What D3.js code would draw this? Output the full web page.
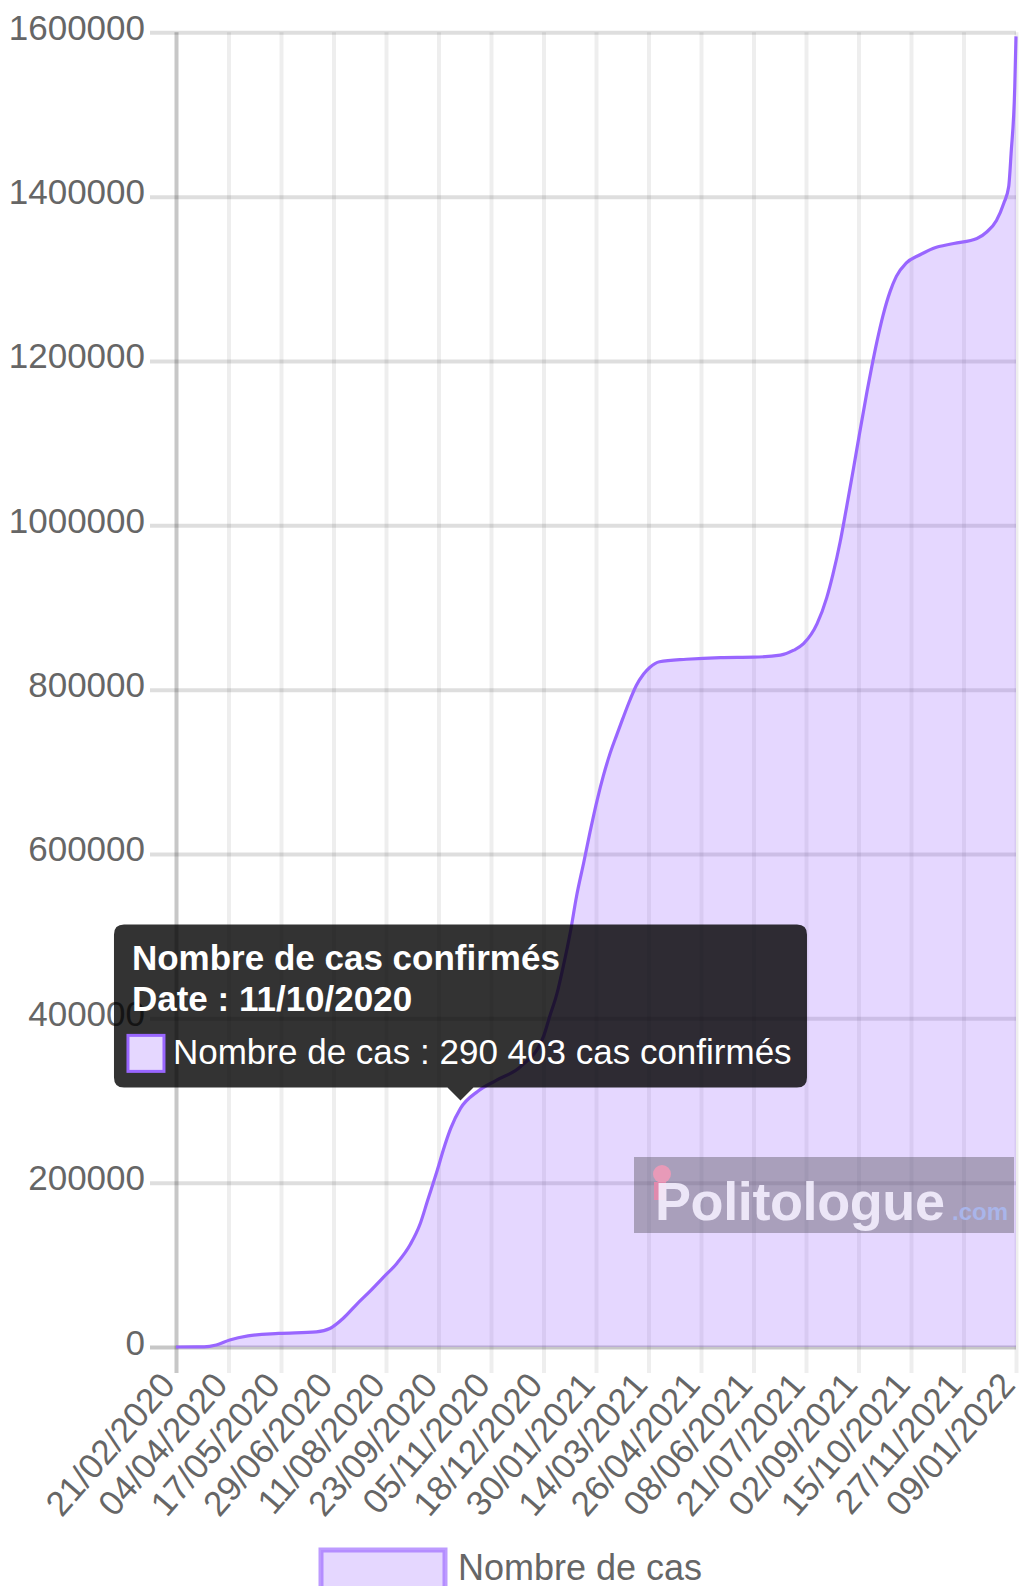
<!DOCTYPE html>
<html lang="fr">
<head>
<meta charset="UTF-8">
<title>Nombre de cas confirmés</title>
<script src="https://d3js.org/d3.v7.min.js"></script>
<style>
  body { margin: 0; background: #fff; }
  svg { display: block; font-family: "Liberation Sans", Arial, sans-serif; }
</style>
</head>
<body>
<svg id="chart" width="1019" height="1586"></svg>
<script>
// values
const dates = [
  "21/02/2020", "15/03/2020", "25/03/2020", "05/04/2020", "20/04/2020", "15/05/2020",
  "15/06/2020", "26/06/2020", "07/07/2020", "18/07/2020", "29/07/2020", "09/08/2020",
  "20/08/2020", "31/08/2020", "08/09/2020", "14/09/2020", "22/09/2020", "27/09/2020",
  "03/10/2020", "11/10/2020", "25/10/2020", "10/11/2020", "29/11/2020", "18/12/2020",
  "23/12/2020", "29/12/2020", "03/01/2021", "09/01/2021", "14/01/2021", "20/01/2021",
  "25/01/2021", "31/01/2021", "05/02/2021", "10/02/2021", "16/02/2021", "21/02/2021",
  "27/02/2021", "04/03/2021", "10/03/2021", "15/03/2021", "23/03/2021", "14/04/2021",
  "12/05/2021", "08/06/2021", "30/06/2021", "11/07/2021", "19/07/2021", "30/07/2021",
  "07/08/2021", "12/08/2021", "18/08/2021", "23/08/2021", "29/08/2021", "03/09/2021",
  "09/09/2021", "13/09/2021", "17/09/2021", "22/09/2021", "28/09/2021", "03/10/2021",
  "11/10/2021", "22/10/2021", "02/11/2021", "19/11/2021", "08/12/2021", "16/12/2021",
  "24/12/2021", "30/12/2021", "03/01/2022", "05/01/2022", "08/01/2022", "09/01/2022"
];
const cases = [
  0, 200, 2500, 8500, 13500, 16500,
  18500, 22500, 35000, 52000, 68000, 85000,
  102000, 125000, 150000, 178000, 215000, 240000,
  266000, 290403, 311000, 325000, 341000, 378000,
  402000, 430000, 462000, 505000, 548000, 590000,
  626000, 666000, 695000, 720000, 745000, 765000,
  788000, 805000, 819000, 827000, 834000, 837000,
  839000, 839500, 842000, 848000, 856000, 880000,
  912000, 940000, 980000, 1020000, 1070000, 1113000,
  1163000, 1194000, 1223000, 1255000, 1285000, 1303000,
  1319000, 1329000, 1337000, 1343000, 1349000, 1357000,
  1371000, 1392000, 1412000, 1453000, 1534000, 1595000
];
const xTickLabels = [
  "21/02/2020", "04/04/2020", "17/05/2020", "29/06/2020", "11/08/2020", "23/09/2020",
  "05/11/2020", "18/12/2020", "30/01/2021", "14/03/2021", "26/04/2021", "08/06/2021",
  "21/07/2021", "02/09/2021", "15/10/2021", "27/11/2021", "09/01/2022"
];
const yTickValues = [0, 200000, 400000, 600000, 800000, 1000000, 1200000, 1400000, 1600000];

const seriesName = "Nombre de cas";
const tooltipTitle = "Nombre de cas confirmés";
const tooltipDate = "11/10/2020";

const parse = d3.timeParse("%d/%m/%Y");
const data = dates.map((d, i) => ({ date: parse(d), value: cases[i] }));

const svg = d3.select("#chart");
const plot = { left: 176, right: 1016, top: 32.3, bottom: 1347 };
const font = 35;

const x = d3.scaleTime()
  .domain([parse(xTickLabels[0]), parse(xTickLabels[xTickLabels.length - 1])])
  .range([plot.left, plot.right]);
const y = d3.scaleLinear().domain([0, 1600000]).range([plot.bottom, plot.top]);

// grid + axes
const xAxis = d3.axisBottom(x)
  .tickValues(xTickLabels.map(parse))
  .tickSize(-(plot.bottom - plot.top))
  .tickFormat(d3.timeFormat("%d/%m/%Y"));
const gx = svg.append("g").attr("transform", `translate(0,${plot.bottom})`).call(xAxis);
gx.select(".domain").remove();
gx.selectAll(".tick line")
  .attr("y1", 26)
  .attr("stroke", (d, i) => i === 0 ? "rgba(0,0,0,0.22)" : "rgba(0,0,0,0.065)")
  .attr("stroke-width", 4);
gx.selectAll(".tick text")
  .attr("fill", "#666")
  .attr("font-size", font)
  .attr("text-anchor", "end")
  .attr("y", 0)
  .attr("dy", "0.35em")
  .attr("transform", "translate(-9,31) rotate(-49)");

const yAxis = d3.axisLeft(y)
  .tickValues(yTickValues)
  .tickSize(-(plot.right - plot.left))
  .tickFormat(d3.format("d"));
const gy = svg.append("g").attr("transform", `translate(${plot.left},0)`).call(yAxis);
gy.select(".domain").remove();
gy.selectAll(".tick line")
  .attr("x1", -26)
  .attr("stroke", d => d === 0 ? "rgba(0,0,0,0.22)" : "rgba(0,0,0,0.13)")
  .attr("stroke-width", 4);
gy.selectAll(".tick text")
  .attr("fill", "#666")
  .attr("font-size", font)
  .attr("x", -31)
  .attr("dy", "0.2em");

// series
const area = d3.area()
  .x(d => x(d.date))
  .y0(y(0))
  .y1(d => y(d.value))
  .curve(d3.curveMonotoneX);
const line = d3.line()
  .x(d => x(d.date))
  .y(d => y(d.value))
  .curve(d3.curveMonotoneX);

svg.append("path").datum(data)
  .attr("d", area)
  .attr("fill", "rgba(153,102,255,0.26)");
svg.append("path").datum(data)
  .attr("d", line)
  .attr("fill", "none")
  .attr("stroke", "#9966ff")
  .attr("stroke-width", 3.2);

// watermark
const wm = svg.append("g");
wm.append("rect")
  .attr("x", 634).attr("y", 1157).attr("width", 380).attr("height", 76)
  .attr("fill", "rgba(95,90,105,0.45)");
wm.append("circle").attr("cx", 662).attr("cy", 1174).attr("r", 9).attr("fill", "#e89ab8");
wm.append("rect").attr("x", 654).attr("y", 1182).attr("width", 12).attr("height", 18)
  .attr("fill", "#e08aad");
wm.append("text")
  .attr("x", 655).attr("y", 1220)
  .attr("font-size", 54).attr("font-weight", "bold")
  .attr("fill", "rgba(245,240,255,0.88)")
  .attr("textLength", 290)
  .text("Politologue");
wm.append("text")
  .attr("x", 952).attr("y", 1220)
  .attr("font-size", 24).attr("font-weight", "bold")
  .attr("fill", "#a9b5ea")
  .text(".com");

// tooltip
const ti = dates.indexOf(tooltipDate);
const px = x(data[ti].date), py = y(data[ti].value);
const boxW = 693, boxH = 163;
const bx = px - boxW / 2, by = py - 8 - 13 - boxH;
const tip = svg.append("g");
tip.append("path")
  .attr("d", `M${bx + 10},${by} H${bx + boxW - 10} Q${bx + boxW},${by} ${bx + boxW},${by + 10}
    V${by + boxH - 10} Q${bx + boxW},${by + boxH} ${bx + boxW - 10},${by + boxH}
    H${px + 13} L${px},${py - 8} L${px - 13},${by + boxH}
    H${bx + 10} Q${bx},${by + boxH} ${bx},${by + boxH - 10}
    V${by + 10} Q${bx},${by} ${bx + 10},${by} Z`)
  .attr("fill", "rgba(0,0,0,0.8)");
tip.append("text")
  .attr("x", bx + 18).attr("y", by + 46)
  .attr("font-size", font).attr("font-weight", "bold").attr("fill", "#fff")
  .text(tooltipTitle);
tip.append("text")
  .attr("x", bx + 18).attr("y", by + 87)
  .attr("font-size", font).attr("font-weight", "bold").attr("fill", "#fff")
  .text("Date : " + tooltipDate);
tip.append("rect")
  .attr("x", bx + 14).attr("y", by + 111).attr("width", 36).attr("height", 36)
  .attr("fill", "#fff");
tip.append("rect")
  .attr("x", bx + 14).attr("y", by + 111).attr("width", 36).attr("height", 36)
  .attr("fill", "rgba(153,102,255,0.26)")
  .attr("stroke", "#9966ff").attr("stroke-width", 3);
const fmt = d3.formatLocale({ decimal: ",", thousands: " ", grouping: [3], currency: ["", " €"] }).format(",d");
tip.append("text")
  .attr("x", bx + 59).attr("y", by + 140)
  .attr("font-size", font).attr("fill", "#fff")
  .text(`${seriesName} : ${fmt(data[ti].value)} cas confirmés`);

// legend
const lg = svg.append("g");
lg.append("rect")
  .attr("x", 321).attr("y", 1550).attr("width", 124).attr("height", 40)
  .attr("fill", "rgba(153,102,255,0.26)")
  .attr("stroke", "rgba(153,102,255,0.65)").attr("stroke-width", 5);
lg.append("text")
  .attr("x", 458).attr("y", 1580)
  .attr("font-size", 36).attr("fill", "#666")
  .text(seriesName);
</script>
</body>
</html>
